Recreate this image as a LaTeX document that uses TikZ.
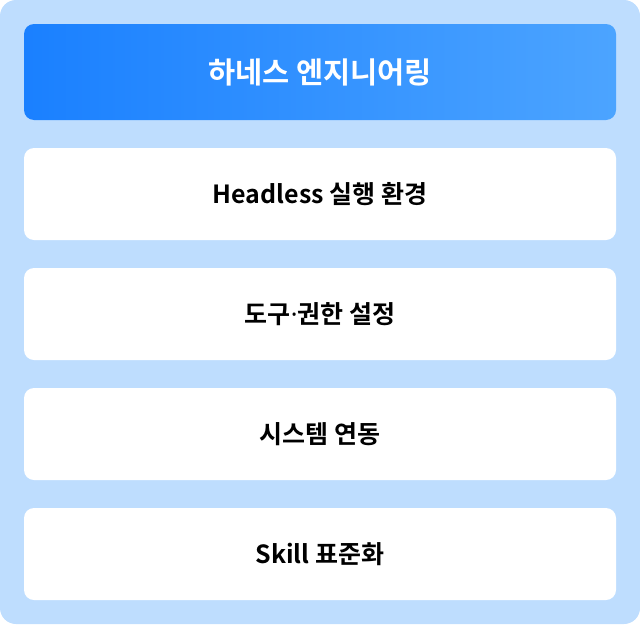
\documentclass[tikz,border=0pt]{standalone}
\usepackage{fontspec}
\newfontfamily\kr{Noto Sans CJK KR}[BoldFont={* Bold}]
\newfontfamily\lat{Noto Sans}
\definecolor{bgblue}{HTML}{BEDDFE}
\definecolor{gradL}{HTML}{1A80FF}
\definecolor{gradR}{HTML}{4CA4FF}
\tikzset{
  itembox/.style={fill=white, rounded corners=10pt, minimum width=592pt, minimum height=92pt, inner sep=0pt, font=\kr\bfseries\fontsize{25}{30}\selectfont, text=black},
  headbox/.style={rounded corners=10pt, minimum width=592pt, minimum height=96pt, inner sep=0pt, left color=gradL, right color=gradR, font=\kr\bfseries\fontsize{29.5}{34}\selectfont, text=white}
}
\begin{document}
\begin{tikzpicture}[x=1pt,y=-1pt]
\useasboundingbox (0,0) rectangle (640,624);
\fill[bgblue, rounded corners=16pt] (0,0) rectangle (640,624);
\node[headbox] (head) at (320,72) {하네스 엔지니어링};
\node[itembox] (b1) at (320,194) {Headless 실행 환경};
\node[itembox] (b2) at (320,314) {도구{\lat\bfseries ·}권한 설정};
\node[itembox] (b3) at (320,434) {시스템 연동};
\node[itembox] (b4) at (320,554) {Skill 표준화};
\end{tikzpicture}
\end{document}
